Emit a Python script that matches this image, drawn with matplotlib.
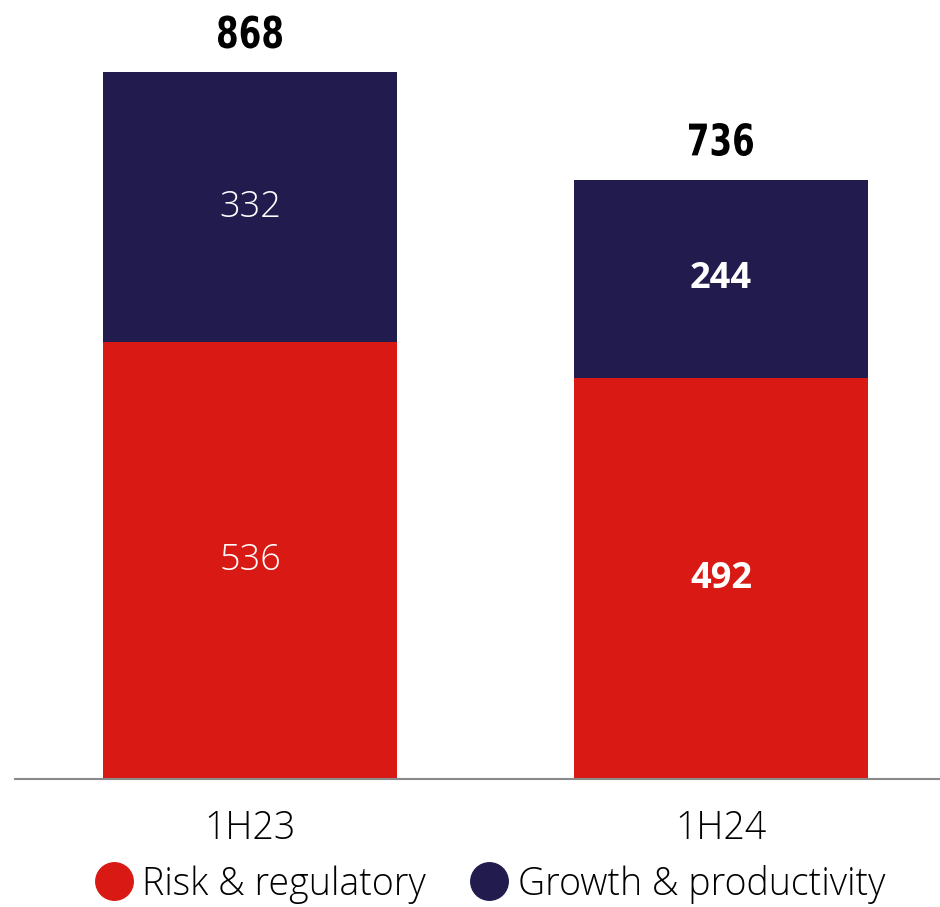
import numpy as np
import matplotlib.pyplot as plt
from matplotlib.lines import Line2D
from matplotlib.textpath import TextPath
from matplotlib.patches import PathPatch
from matplotlib.font_manager import FontProperties
from matplotlib.transforms import Affine2D, IdentityTransform

# Data
periods = ['1H23', '1H24']
risk = [536, 492]
growth = [332, 244]
totals = [868, 736]

red = '#D91A14'
navy = '#221C4E'
base_font = ['Open Sans', 'DejaVu Sans']

fig = plt.figure(figsize=(9.4, 9.07), dpi=100, facecolor='white')
ax = fig.add_axes([15 / 940, 1 - 779 / 907, 925 / 940, 707 / 907])

x = np.arange(len(periods))
w = 294 / 471
ax.bar(x, risk, width=w, color=red)
ax.bar(x, growth, width=w, bottom=risk, color=navy)

ax.set_ylim(0, 868)
ax.set_xlim(-235 / 471, 1 + 219 / 471)

# segment labels (first bar light, second bar bold)
weights = ['light', 'bold']
for i in range(len(periods)):
    ax.text(x[i], risk[i] / 2, str(risk[i]), ha='center', va='center',
            color='white', fontsize=26, fontweight=weights[i], family=base_font)
    ax.text(x[i], risk[i] + growth[i] / 2, str(growth[i]), ha='center', va='center',
            color='white', fontsize=26, fontweight=weights[i], family=base_font)

# totals in a squeezed bold face (no condensed display font installed)
fp = FontProperties(family='DejaVu Sans', weight='bold')
for i in range(len(periods)):
    tp = TextPath((0, 0), str(totals[i]), size=45, prop=fp)
    ext = tp.get_extents()
    sx = 64 / ext.width
    sy = 33 / ext.height
    px, py = ax.transData.transform((x[i], totals[i]))
    tr = (Affine2D().translate(-(ext.x0 + ext.width / 2), -(ext.y0 + ext.height / 2))
          .scale(sx, sy).translate(px, py + 40))
    fig.patches.append(PathPatch(tr.transform_path(tp), facecolor='black',
                                 edgecolor='none', transform=IdentityTransform(),
                                 figure=fig))

ax.set_xticks(x)
ax.set_xticklabels(periods, fontsize=27, family=base_font, fontweight='light')
ax.tick_params(axis='x', length=0, pad=22)
ax.set_yticks([])
for s in ['top', 'right', 'left']:
    ax.spines[s].set_visible(False)
ax.spines['bottom'].set_color('#8a8a8a')
ax.spines['bottom'].set_linewidth(1.5)

handles = [Line2D([], [], marker='o', linestyle='', markersize=27, color=red),
           Line2D([], [], marker='o', linestyle='', markersize=27, color=navy)]
fig.legend(handles, ['Risk & regulatory', 'Growth & productivity'],
           loc='center', bbox_to_anchor=(490 / 940, 1 - 884 / 907), ncol=2,
           frameon=False, handlelength=1.0, handletextpad=0.25, columnspacing=1.2,
           prop={'family': base_font, 'size': 27, 'weight': 'light'})

plt.savefig('out.png', dpi=100, facecolor='white')
plt.close()
